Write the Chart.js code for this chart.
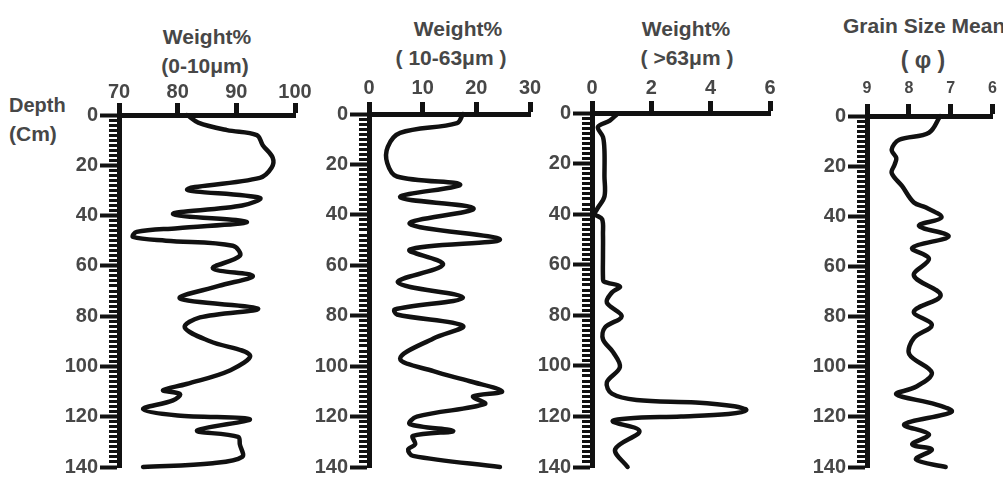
<!DOCTYPE html>
<html>
<head>
<meta charset="utf-8">
<script src="https://cdn.jsdelivr.net/npm/chart.js@4.4.0/dist/chart.umd.min.js"></script>
<style>
  body { margin: 0; background: #fff; width: 1003px; height: 481px; overflow: hidden; position: relative;
         font-family: "Liberation Sans", Arial, sans-serif; }
  canvas { position: absolute; left: 0; top: 0; }
  .lbl { position: absolute; color: #474747; font-size: 21px; font-weight: bold; line-height: 1; white-space: nowrap;
         transform: translate(-50%, -50%); }
  .side { position: absolute; color: #474747; font-size: 21px; font-weight: bold; line-height: 1; white-space: nowrap;
          transform: translateY(-50%); }
</style>
</head>
<body>
<!-- titulos -->
<div class="side" style="left:9px;top:105px;font-size:20px">Depth</div>
<div class="side" style="left:9px;top:133px">(Cm)</div>
<div class="lbl" style="left:207px;top:36px">Weight%</div>
<div class="lbl" style="left:205px;top:65px">(0-10μm)</div>
<div class="lbl" style="left:458px;top:28px">Weight%</div>
<div class="lbl" style="left:451px;top:57px">( 10-63μm )</div>
<div class="lbl" style="left:686px;top:28px">Weight%</div>
<div class="lbl" style="left:687px;top:57px">( &gt;63μm )</div>
<div class="side" style="left:843px;top:25px">Grain Size Mean</div>
<div class="lbl" style="left:923px;top:60px;font-size:23px">( φ )</div>

<canvas id="fine-chart" width="1003" height="481"></canvas>
<canvas id="silt-chart" width="1003" height="481"></canvas>
<canvas id="sand-chart" width="1003" height="481"></canvas>
<canvas id="mean-chart" width="1003" height="481"></canvas>

<script>
// dados (profundidade em cm)
const depthFine = [0, 3, 6, 8, 12, 17, 21, 25, 29.6, 33, 36, 39.4, 42.5, 45, 46.5, 48.5, 50, 52, 56, 61, 64, 68, 73, 77, 80.5, 84.5, 90, 95.5, 101.5, 107, 109.5, 111, 113.5, 117, 119.5, 121, 125.5, 128, 131, 136, 138.5, 140];
const weightFine = [81.6, 83.5, 88.4, 93.5, 94.5, 96.2, 96, 94, 81.6, 94, 91, 79.2, 91.8, 80, 73, 72.4, 78, 89.4, 90.6, 86, 92.8, 87, 80.4, 93.7, 83.8, 81.2, 85.5, 92.3, 89, 81.5, 77.5, 80.4, 79.2, 74.1, 80, 92.3, 83.3, 90.3, 90.6, 91, 86, 74.1];

const depthSilt = [0, 3.6, 7.5, 13, 19.5, 24.8, 28, 33, 37.5, 43.5, 49.8, 53.8, 59.7, 66.8, 72.8, 77.5, 79.5, 84, 89, 97, 102, 106, 110, 112, 115, 120, 123, 125.7, 127.7, 131, 133, 135.6, 140];
const weightSilt = [17.5, 16.4, 5.8, 3.5, 3.4, 5.2, 17, 5.8, 19.5, 7.6, 24.4, 7.6, 13.8, 5.4, 17.5, 4.8, 5.2, 17.5, 12, 5.8, 12, 18.8, 24.8, 19.4, 21.6, 8.9, 7.6, 15.7, 8.2, 8.6, 7.3, 8.2, 24.4];

const depthSand = [0.5, 3, 5.5, 9.5, 15, 25, 33, 38, 40, 42, 48, 56, 65, 66.6, 68.6, 71, 75, 80.4, 84.8, 89.5, 94.6, 100.5, 106.5, 111, 113.5, 114.5, 116, 117.5, 119, 120, 120.8, 122, 125.8, 133, 140];
const weightSand = [0.84, 0.6, 0.2, 0.37, 0.42, 0.42, 0.42, 0.17, 0.1, 0.34, 0.37, 0.37, 0.37, 0.4, 0.94, 0.67, 0.5, 1.0, 0.44, 0.37, 0.71, 0.94, 0.5, 0.67, 1.5, 3.5, 4.8, 5.2, 4.6, 3, 1.2, 0.7, 1.6, 0.78, 1.2];

const depthMean = [0, 6.7, 9.5, 13.4, 16.8, 19.4, 22.7, 28, 34.5, 36.5, 40.5, 43.8, 48, 52.6, 57, 63.6, 71.5, 78, 83.4, 88.6, 95, 102.4, 108, 111, 115, 118, 123, 127, 131, 133, 137, 140];
const phiMean = [7.25, 7.52, 8.23, 8.41, 8.3, 8.34, 8.41, 8.16, 7.88, 7.59, 7.22, 7.76, 7.05, 7.92, 7.52, 7.88, 7.24, 7.88, 7.45, 7.88, 7.99, 7.45, 7.83, 8.3, 7.36, 6.98, 8.11, 7.52, 7.92, 7.45, 7.83, 7.12];

const textColor = "#474747";
const inkColor = "#111";
const fontFamily = "'Liberation Sans', Arial, sans-serif";

function toPoints(depths, values) {
  return depths.map((d, i) => ({ x: values[i], y: d }));
}

function isMajor(ctx) {
  return ctx.tick && ctx.tick.value % 20 === 0;
}

function drawPanel(canvasId, box, xAxis, depths, values) {
  return new Chart(document.getElementById(canvasId), {
    type: "scatter",
    data: {
      datasets: [
        {
          data: toPoints(depths, values),
          showLine: true,
          borderColor: inkColor,
          borderWidth: 4.5,
          borderJoinStyle: "round",
          borderCapStyle: "round",
          pointRadius: 0,
          tension: 0.35,
          clip: 10,
        },
      ],
    },
    options: {
      responsive: false,
      animation: false,
      events: [],
      layout: { padding: { left: 0, top: 0, right: 1003 - box.right, bottom: 481 - box.bottom } },
      plugins: { legend: { display: false }, tooltip: { enabled: false } },
      scales: {
        x: {
          type: "linear",
          position: "top",
          min: xAxis.min,
          max: xAxis.max,
          reverse: !!xAxis.reverse,
          afterFit: (scale) => { scale.height = box.top; },
          border: { width: 5, color: inkColor },
          grid: { drawOnChartArea: false, tickLength: 12, tickWidth: 5, tickColor: inkColor },
          ticks: {
            stepSize: xAxis.step,
            padding: xAxis.pad,
            color: textColor,
            font: { family: fontFamily, size: xAxis.fontSize, weight: "bold" },
          },
        },
        y: {
          type: "linear",
          min: 0,
          max: 140,
          reverse: true,
          afterFit: (scale) => { scale.width = box.left; },
          border: { width: 5, color: inkColor },
          grid: {
            drawOnChartArea: false,
            tickLength: 19,
            tickColor: inkColor,
            tickWidth: (ctx) => (isMajor(ctx) ? 4 : 3),
            tickBorderDash: (ctx) => (isMajor(ctx) ? [] : [0, 9, 20, 100]),
          },
          ticks: {
            stepSize: 2,
            autoSkip: false,
            maxTicksLimit: 100,
            padding: 2,
            color: textColor,
            font: { family: fontFamily, size: 20, weight: "bold" },
            callback: (v) => (v % 20 === 0 ? v : ""),
          },
        },
      },
    },
  });
}

drawPanel("fine-chart", { left: 119, right: 295, top: 115, bottom: 470 },
  { min: 70, max: 100, step: 10, pad: -1, fontSize: 20 }, depthFine, weightFine);
drawPanel("silt-chart", { left: 369, right: 530, top: 114, bottom: 468 },
  { min: 0, max: 30, step: 10, pad: 2, fontSize: 20 }, depthSilt, weightSilt);
drawPanel("sand-chart", { left: 592, right: 770, top: 113, bottom: 467 },
  { min: 0, max: 6, step: 2, pad: 1, fontSize: 20 }, depthSand, weightSand);
drawPanel("mean-chart", { left: 867, right: 995, top: 116, bottom: 470 },
  { min: 6, max: 9, step: 1, pad: 6, fontSize: 16, reverse: true }, depthMean, phiMean);
</script>
</body>
</html>
